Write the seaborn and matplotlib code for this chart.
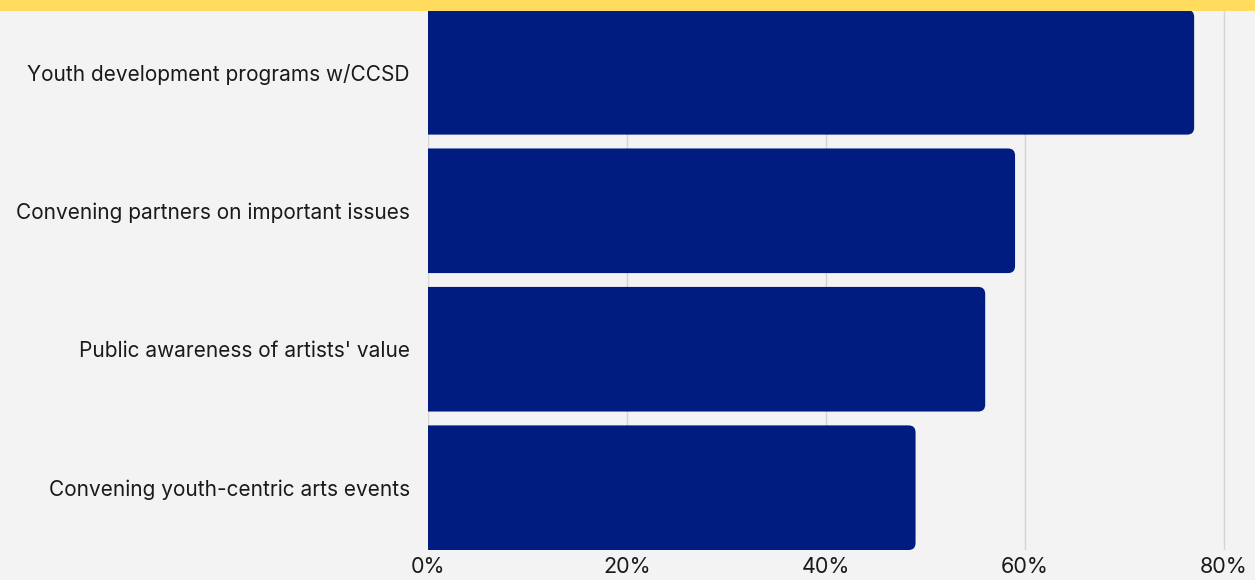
import matplotlib
matplotlib.use("Agg")
import matplotlib.pyplot as plt
import seaborn as sns
import pandas as pd
from matplotlib.patches import PathPatch, Rectangle
from matplotlib.path import Path

# data
categories = [
    "Youth development programs w/CCSD",
    "Convening partners on important issues",
    "Public awareness of artists' value",
    "Convening youth-centric arts events",
]
values = [77, 59, 56, 49]
tick_values = [0, 20, 40, 60, 80]
tick_labels = ["0%", "20%", "40%", "60%", "80%"]

BG = "#f3f3f3"
BAR = "#001c80"
BAND = "#ffdb5e"
TXT = "#1a1a1a"

sns.set_style("white")
plt.rcParams["font.family"] = ["Inter", "DejaVu Sans"]

df = pd.DataFrame({"cat": categories, "val": values})

W, H = 1255, 580
fig = plt.figure(figsize=(W / 100, H / 100), dpi=100)
fig.patch.set_facecolor(BG)

ax_l, ax_r, ax_t, ax_b = 428, 1255, 10, 550
ax = fig.add_axes([ax_l / W, 1 - ax_b / H, (ax_r - ax_l) / W, (ax_b - ax_t) / H])
ax.set_facecolor(BG)

sns.barplot(data=df, x="val", y="cat", orient="h", color=BAR, width=0.9,
            saturation=1, ax=ax, zorder=3)

xmax = (ax_r - ax_l) / 9.95
ax.set_xlim(0, xmax)
ax.set_ylim(len(categories) - 0.55, -0.45)

# rounded right ends, flat left ends: rebuild each bar as one path
px_x = (ax_r - ax_l) / xmax
px_y = (ax_b - ax_t) / (len(categories) - 0.1)
rx, ry = 7 / px_x, 7 / px_y
for p in list(ax.patches):
    x, y, w, h = p.get_x(), p.get_y(), p.get_width(), p.get_height()
    p.set_visible(False)
    verts = [(x, y), (x + w - rx, y), (x + w, y), (x + w, y + ry),
             (x + w, y + h - ry), (x + w, y + h), (x + w - rx, y + h),
             (x, y + h), (x, y)]
    codes = [Path.MOVETO, Path.LINETO, Path.CURVE3, Path.CURVE3,
             Path.LINETO, Path.CURVE3, Path.CURVE3, Path.LINETO, Path.CLOSEPOLY]
    ax.add_patch(PathPatch(Path(verts, codes), facecolor=BAR, edgecolor="none", zorder=3))

ax.set_xticks(tick_values)
ax.set_xticklabels(tick_labels)
ax.grid(axis="x", color="#d4d4d4", linewidth=1, zorder=0)
ax.grid(axis="y", visible=False)
for s in ax.spines.values():
    s.set_visible(False)
ax.tick_params(axis="x", length=0, pad=5, labelsize=15.5, colors=TXT)
ax.tick_params(axis="y", length=0, pad=13, labelsize=15, colors=TXT)
ax.set_xlabel("")
ax.set_ylabel("")

# yellow band across the top
fig.patches.append(Rectangle((0, 1 - 11 / H), 1, 11 / H, transform=fig.transFigure,
                             facecolor=BAND, edgecolor="none", zorder=10))

fig.savefig("out.png", dpi=100, facecolor=BG)
